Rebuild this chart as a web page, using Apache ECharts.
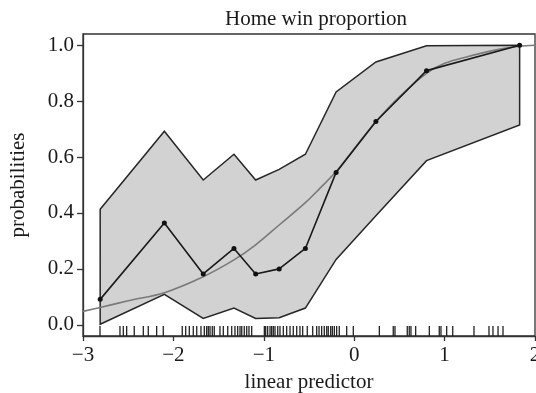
<!DOCTYPE html>
<html>
<head>
<meta charset="utf-8">
<script src="https://cdn.jsdelivr.net/npm/echarts@6/dist/echarts.min.js"></script>
<style>
  html, body { margin: 0; padding: 0; background: #fff; }
  #chart { width: 536px; height: 393px; }
</style>
</head>
<body>
<div id="chart"></div>
<script>
// Binned linear predictor: group centres, observed home-win proportion and 95% interval
const binX  = [-2.81, -2.10, -1.67, -1.33, -1.09, -0.83, -0.54, -0.20, 0.24, 0.80, 1.83];
const prop  = [0.091, 0.364, 0.182, 0.273, 0.182, 0.200, 0.273, 0.545, 0.727, 0.909, 1.000];
const upper = [0.413, 0.692, 0.518, 0.610, 0.518, 0.556, 0.610, 0.833, 0.940, 0.998, 1.000];
const lower = [0.002, 0.109, 0.023, 0.060, 0.023, 0.025, 0.060, 0.234, 0.390, 0.587, 0.715];

// Fitted probability curve
const fitX = [-3.0, -2.81, -2.5, -2.1, -1.67, -1.33, -1.09, -0.83, -0.54, -0.38, -0.2, 0.0, 0.24, 0.5, 0.8, 1.0, 1.24, 1.6, 1.83, 2.0];
const fitY = [0.048, 0.062, 0.086, 0.115, 0.172, 0.232, 0.286, 0.357, 0.437, 0.488, 0.548, 0.630, 0.726, 0.815, 0.899, 0.935, 0.958, 0.985, 0.996, 1.0];

// Individual linear predictor values (rug)
const rugX = [
  -2.812, -2.591, -2.554, -2.517, -2.433, -2.333, -2.278, -2.185, -2.112,
  -1.902, -1.864, -1.824, -1.780, -1.742, -1.695, -1.658, -1.632, -1.614, -1.595, -1.570, -1.548,
  -1.485, -1.448, -1.399, -1.355, -1.319, -1.289, -1.263, -1.244, -1.216, -1.189, -1.164, -1.134,
  -0.994, -0.979, -0.957, -0.931, -0.913, -0.895, -0.876, -0.846, -0.821, -0.784, -0.747, -0.710,
  -0.674, -0.636, -0.600, -0.570, -0.519, -0.459, -0.415, -0.389, -0.360, -0.331, -0.304, -0.287,
  -0.260, -0.242, -0.220, -0.194, -0.165, -0.083, -0.010, 0.278, 0.432, 0.451, 0.587, 0.609,
  0.628, 0.680, 0.831, 0.941, 0.960, 1.023, 1.090, 1.325, 1.491, 1.535, 1.591, 1.646
];

const yTicks = [0, 0.2, 0.4, 0.6, 0.8, 1.0];

const FONT = 'Liberation Serif';
const INK = '#1a1a1a';
const Y_MIN = -0.04, Y_MAX = 1.04;

const fmtX = v => (v < 0 ? '\u2212' + Math.abs(v) : String(v));

const chart = echarts.init(document.getElementById('chart'), null, { renderer: 'canvas' });

chart.setOption({
  animation: false,
  backgroundColor: '#fff',
  title: {
    text: 'Home win proportion',
    left: 311,
    textAlign: 'center',
    top: 4,
    textStyle: { fontFamily: FONT, fontSize: 21, fontWeight: 'normal', color: INK }
  },
  grid: {
    left: 83, top: 34, width: 452, height: 302,
    outerBoundsMode: 'none',
    containLabel: false,
    show: true, borderColor: '#333', borderWidth: 1.3, backgroundColor: 'transparent'
  },
  xAxis: {
    type: 'value',
    min: -3, max: 2, interval: 1,
    name: 'linear predictor',
    nameLocation: 'middle',
    nameGap: 36,
    nameTextStyle: { fontFamily: FONT, fontSize: 21, color: INK },
    axisLine: { show: true, onZero: false, lineStyle: { color: '#333', width: 1.3 } },
    axisTick: { show: true, inside: false, length: 5, lineStyle: { color: '#333', width: 1.3 } },
    axisLabel: { fontFamily: FONT, fontSize: 21, color: INK, margin: 9, formatter: fmtX, showMinLabel: true, showMaxLabel: true, hideOverlap: false },
    splitLine: { show: false }
  },
  yAxis: {
    type: 'value',
    min: Y_MIN, max: Y_MAX,
    name: 'probabilities',
    nameLocation: 'middle',
    nameRotate: 90,
    nameGap: 54,
    nameTextStyle: { fontFamily: FONT, fontSize: 21, color: INK },
    axisLine: { show: true, onZero: false, lineStyle: { color: '#333', width: 1.3 } },
    axisTick: { show: true, inside: false, length: 6, customValues: yTicks, lineStyle: { color: '#333', width: 1.3 } },
    axisLabel: { fontFamily: FONT, fontSize: 21, color: INK, margin: 9, customValues: yTicks, formatter: v => v.toFixed(1) },
    splitLine: { show: false }
  },
  series: [
    {
      // interval band drawn as one closed polygon
      type: 'custom',
      z: 1,
      silent: true,
      data: [[binX[0], lower[0]]],
      renderItem: (params, api) => {
        const pts = [];
        for (let i = 0; i < binX.length; i++) pts.push(api.coord([binX[i], upper[i]]));
        for (let i = binX.length - 1; i >= 0; i--) pts.push(api.coord([binX[i], lower[i]]));
        return {
          type: 'polygon',
          shape: { points: pts },
          style: { fill: '#d2d2d2', stroke: '#262626', lineWidth: 1.5, lineJoin: 'miter' }
        };
      }
    },
    {
      type: 'custom',
      z: 2,
      silent: true,
      clip: false,
      data: rugX.map(v => [v, Y_MIN]),
      renderItem: (params, api) => {
        const p = api.coord([api.value(0), Y_MIN]);
        return {
          type: 'line',
          shape: { x1: p[0], y1: p[1], x2: p[0], y2: p[1] - 10 },
          style: { stroke: '#222', lineWidth: 1.3 }
        };
      }
    },
    {
      type: 'line',
      z: 3,
      data: fitX.map((x, i) => [x, fitY[i]]),
      smooth: 0.35,
      showSymbol: false,
      lineStyle: { color: '#7a7a7a', width: 1.6 }
    },
    {
      type: 'line',
      z: 4,
      data: binX.map((x, i) => [x, prop[i]]),
      symbol: 'circle',
      symbolSize: 5,
      itemStyle: { color: '#111' },
      lineStyle: { color: '#1a1a1a', width: 1.6 }
    }
  ]
});
</script>
</body>
</html>
